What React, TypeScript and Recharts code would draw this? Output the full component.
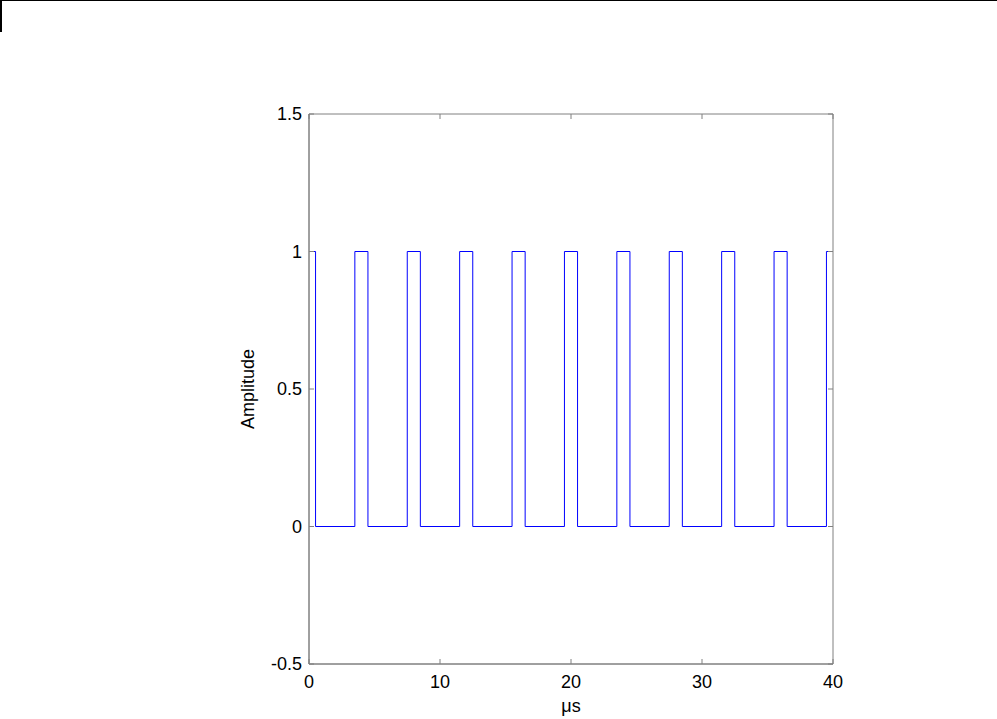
import React from 'react'
import { LineChart, Line, XAxis, YAxis } from 'recharts'

// switching instants of the pulse train (µs) and the level held after each one
const edgeTimes = [0, 0.5, 3.5, 4.5, 7.5, 8.5, 11.5, 12.5, 15.5, 16.5, 19.5, 20.5, 23.5, 24.5, 27.5, 28.5, 31.5, 32.5, 35.5, 36.5, 39.5, 40]
const levels = [1, 0, 1, 0, 1, 0, 1, 0, 1, 0, 1, 0, 1, 0, 1, 0, 1, 0, 1, 0, 1, 1]

const xTicks = [0, 10, 20, 30, 40]
const yTicks = [-0.5, 0, 0.5, 1, 1.5]
const xDomain = [0, 40]
const yDomain = [-0.5, 1.5]

const data = edgeTimes.map((t, i) => ({ t, amp: levels[i] }))

const axisColor = '#808080'
const tickFont = { fontSize: 18, fill: '#000', fontFamily: '"Liberation Sans", Arial, sans-serif' }
const blank = () => ''

// mirrored axes only draw the inward tick marks and the frame edges
const boxX = { type: 'number' as const, dataKey: 't', domain: xDomain, ticks: xTicks, height: 20, mirror: true, stroke: axisColor, tickSize: 5, tickFormatter: blank, allowDataOverflow: true }
const boxY = { type: 'number' as const, domain: yDomain, ticks: yTicks, width: 20, mirror: true, stroke: axisColor, tickSize: 5, tickFormatter: blank, allowDataOverflow: true }

export default function App() {
  return (
    <div style={{ position: 'absolute', left: 0, top: 0, width: 997, height: 719, background: '#fff' }}>
      <div style={{ position: 'absolute', left: 0, top: 0, width: 997, height: 1, background: '#000' }} />
      <div style={{ position: 'absolute', left: 0, top: 0, width: 2, height: 32, background: '#000' }} />
      <LineChart
        width={997}
        height={719}
        data={data}
        margin={{ top: 114, right: 164, bottom: 0, left: 187 }}
      >
        <XAxis
          dataKey="t"
          type="number"
          domain={xDomain}
          ticks={xTicks}
          height={55}
          stroke={axisColor}
          tickLine={false}
          tickMargin={5}
          tick={tickFont}
          label={{ value: 'μs', position: 'insideBottom', offset: 7, style: tickFont }}
        />
        <XAxis xAxisId="bottomTicks" orientation="bottom" {...boxX} />
        <XAxis xAxisId="top" orientation="top" {...boxX} />
        <YAxis
          type="number"
          domain={yDomain}
          ticks={yTicks}
          width={122}
          stroke={axisColor}
          tickLine={false}
          tickMargin={1}
          tick={tickFont}
          label={{ value: 'Amplitude', angle: -90, position: 'center', style: tickFont }}
        />
        <YAxis yAxisId="leftTicks" orientation="left" {...boxY} />
        <YAxis yAxisId="right" orientation="right" {...boxY} />
        <Line
          dataKey="amp"
          type="stepAfter"
          stroke="#0000ff"
          strokeWidth={1}
          dot={false}
          isAnimationActive={false}
        />
      </LineChart>
    </div>
  )
}
